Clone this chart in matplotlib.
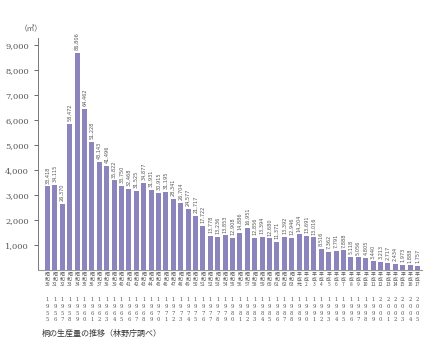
import matplotlib.pyplot as plt
from matplotlib.ticker import FuncFormatter
import matplotlib.transforms as mtransforms

plt.rcParams['font.family'] = ['Noto Sans CJK JP', 'DejaVu Sans']

# 年（西暦）と和暦表記
years = list(range(1955, 2006))
eras = ["昭\n和\n%d" % n for n in range(30, 64)] + ["平\n成\n元"] + ["平\n成\n%d" % n for n in range(2, 18)]

# 生産量（ラベル値、棒の高さはラベル値/10）
labels = [33418, 34115, 26370, 58472, 86806, 64462, 51228, 43143, 41496, 35822,
          33750, 32468, 31525, 34877, 31931, 30915, 31195, 28341, 26704, 24577,
          21717, 17722, 13778, 13236, 13853, 12908, 14886, 16951, 12856, 13394,
          12680, 11371, 13392, 12946, 14204, 13691, 13016, 8516, 7362, 7791,
          7888, 5118, 5056, 4805, 3440, 3213, 2717, 2434, 1973, 1888, 1757]
heights = [v / 10 for v in labels]

W, H = 430, 348
fig = plt.figure(figsize=(W / 100, H / 100), dpi=100)
ax = fig.add_axes([38 / W, (H - 270) / H, (422 - 38) / W, (270 - 38) / H])

BAR = "#8c84bd"
GRAY = "#555555"
x = list(range(len(years)))
ax.bar(x, heights, width=0.68, color=BAR, zorder=2)

ax.set_ylim(0, 9280)
ax.set_xlim(-1.28, 50.6)
ax.set_yticks(range(1000, 10000, 1000))
ax.yaxis.set_major_formatter(FuncFormatter(lambda v, p: f"{int(v):,}"))
ax.tick_params(axis='y', direction='out', length=3, width=0.6, colors=GRAY,
               labelsize=6, labelfontfamily='DejaVu Serif')
ax.set_xticks([])
for s in ['top', 'right']:
    ax.spines[s].set_visible(False)
ax.spines['left'].set_color("#777777")
ax.spines['left'].set_linewidth(0.7)
ax.spines['bottom'].set_color("#999999")
ax.spines['bottom'].set_linewidth(0.8)

# 値ラベル
for xi, h, v in zip(x, heights, labels):
    ax.annotate(f"{v:,}", (xi, h), xytext=(0, 2), textcoords='offset points',
                rotation=90, ha='center', va='bottom', fontsize=3.6,
                color=GRAY, family='DejaVu Sans')

# 軸下の和暦・西暦
trans = mtransforms.blended_transform_factory(ax.transData, fig.transFigure)
for xi, e, y in zip(x, eras, years):
    ax.text(xi, 1 - 272 / H, e, transform=trans, ha='center', va='top',
            fontsize=3.5, color=GRAY, linespacing=1.0)
    ax.text(xi, 1 - 297 / H, "\n".join(str(y)), transform=trans, ha='center',
            va='top', fontsize=3.8, color=GRAY, linespacing=1.45,
            family='DejaVu Serif')

fig.text(20 / W, 1 - 29 / H, "（㎥）", ha='left', va='center', fontsize=5.5, color=GRAY)
fig.text(42 / W, 1 - 333 / H, "桐の生産量の推移（林野庁調べ）", ha='left', va='center',
         fontsize=5.8, color="#333333")

fig.savefig("out.png", dpi=100)
